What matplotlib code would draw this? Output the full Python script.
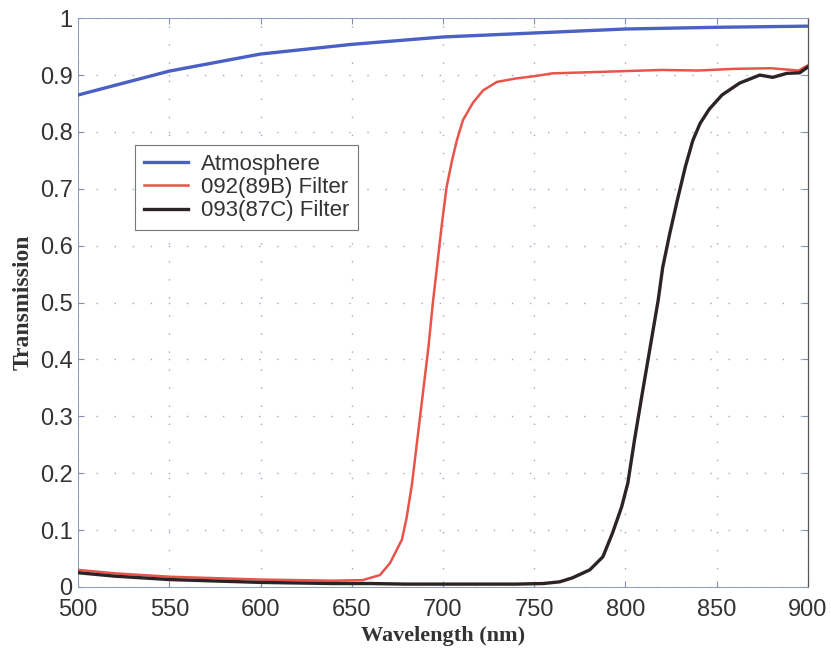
import numpy as np
import matplotlib
matplotlib.use("Agg")
from matplotlib import pyplot as plt

# data
atm_wl = [500, 550, 600, 650, 700, 750, 800, 850, 900]
atm_tr = [0.865, 0.907, 0.937, 0.954, 0.967, 0.974, 0.981, 0.984, 0.986]

red_wl = [500, 510, 520, 530, 540, 550, 560, 570, 580, 590, 600, 620, 640, 656,
          665.5, 671, 677.5, 680, 683, 686, 689, 692, 694.5, 697, 699.5, 702, 705,
          707.7, 711, 716.4, 722, 729.6, 740, 750, 760, 780, 800, 820, 840, 860,
          880, 895, 900]
red_tr = [0.030, 0.027, 0.024, 0.022, 0.020, 0.018, 0.017, 0.016, 0.015, 0.014,
          0.013, 0.012, 0.011, 0.012, 0.021, 0.042, 0.083, 0.120, 0.180, 0.260,
          0.340, 0.420, 0.500, 0.570, 0.640, 0.703, 0.750, 0.786, 0.821, 0.851,
          0.873, 0.888, 0.894, 0.898, 0.903, 0.905, 0.907, 0.909, 0.908, 0.911,
          0.912, 0.908, 0.917]

blk_wl = [500, 510, 520, 530, 540, 550, 560, 570, 580, 590, 600, 620, 640, 660,
          680, 700, 720, 740, 755, 764, 771, 780.5, 787.7, 793, 798, 801.4, 805,
          809, 813, 818, 820.5, 824.4, 828.5, 833, 837, 841, 846, 853, 862.7,
          873.7, 880.8, 888.5, 895.6, 900]
blk_tr = [0.025, 0.022, 0.019, 0.017, 0.015, 0.013, 0.012, 0.011, 0.010, 0.009,
          0.008, 0.007, 0.006, 0.006, 0.005, 0.005, 0.005, 0.005, 0.006, 0.009,
          0.016, 0.030, 0.053, 0.095, 0.141, 0.183, 0.258, 0.335, 0.410, 0.504,
          0.562, 0.622, 0.680, 0.740, 0.785, 0.815, 0.840, 0.865, 0.886, 0.900,
          0.896, 0.903, 0.904, 0.914]

labels = ["Atmosphere", "092(89B) Filter", "093(87C) Filter"]
xticks = [500, 550, 600, 650, 700, 750, 800, 850, 900]
yticks = [0, 0.1, 0.2, 0.3, 0.4, 0.5, 0.6, 0.7, 0.8, 0.9, 1]
ytick_labels = ["0", "0.1", "0.2", "0.3", "0.4", "0.5", "0.6", "0.7", "0.8", "0.9", "1"]

sans = ["Liberation Sans", "DejaVu Sans"]
serif = ["Liberation Serif", "DejaVu Serif"]

fig = plt.figure(figsize=(8.31, 6.5), dpi=100)
ax = fig.add_axes([0.094, 0.097, 0.878, 0.875])

ax.plot(atm_wl, atm_tr, color="#4a60c4", lw=2.4, label=labels[0], zorder=3)
ax.plot(red_wl, red_tr, color="#e8544a", lw=1.8, label=labels[1], zorder=3)
ax.plot(blk_wl, blk_tr, color="#2b2326", lw=2.4, label=labels[2], zorder=4)

ax.set_xlim(500, 900)
ax.set_ylim(0, 1)
ax.set_xticks(xticks)
ax.set_xticklabels([str(t) for t in xticks], family=sans, fontsize=17, color="#333333")
ax.set_yticks(yticks)
ax.set_yticklabels(ytick_labels, family=sans, fontsize=17, color="#333333")
ax.tick_params(direction="in", length=4, top=True, right=True, colors="#8090b0",
               labelcolor="#333333")
ax.tick_params(axis="x", pad=9)
ax.tick_params(axis="y", pad=4)

ax.grid(True, linestyle=(0, (1, 12)), color="#a0a8c8", lw=1)

for side in ["left", "top", "bottom"]:
    ax.spines[side].set_color("#8a9ac0")
    ax.spines[side].set_linewidth(0.7)
ax.spines["right"].set_color("#555555")
ax.spines["right"].set_linewidth(0.9)

ax.set_xlabel("Wavelength (nm)", family=serif, fontweight="bold", fontsize=16,
              color="#333333", labelpad=3)
ax.set_ylabel("Transmission", family=serif, fontweight="bold", fontsize=17,
              color="#333333", labelpad=4)

leg = ax.legend(loc="upper left", bbox_to_anchor=(0.078, 0.777), prop={"family": sans, "size": 16},
                fancybox=False, edgecolor="#777777", framealpha=1, handlelength=2.0,
                handletextpad=0.55, labelspacing=0.1, borderpad=0.4, borderaxespad=0)
leg.get_frame().set_linewidth(0.8)
for t in leg.get_texts():
    t.set_color("#333333")

fig.savefig("out.png", dpi=100)
